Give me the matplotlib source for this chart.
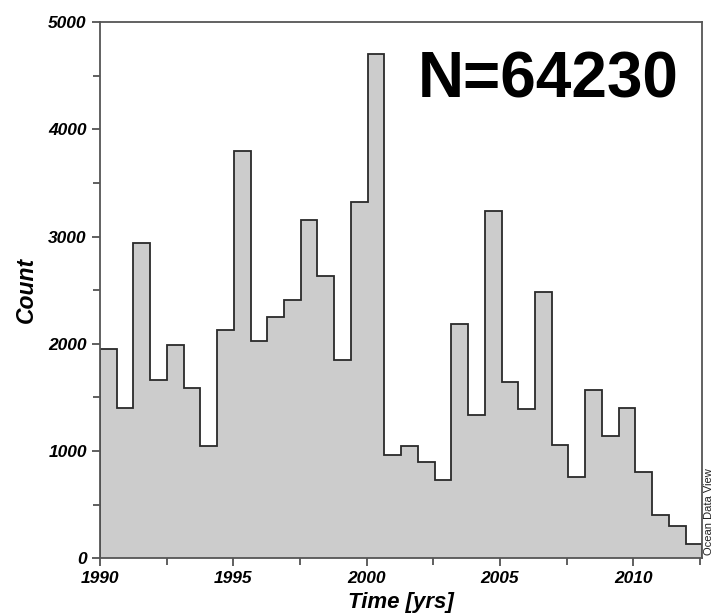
import numpy as np
import matplotlib.pyplot as plt
from matplotlib.ticker import MultipleLocator

# counts per bin (36 equal bins 1990 .. ~2012.6)
counts = [1950, 1400, 2940, 1660, 1990, 1590, 1050, 2130, 3800, 2030,
          2250, 2410, 3150, 2630, 1850, 3320, 4700, 960, 1050, 900,
          730, 2180, 1340, 3240, 1640, 1390, 2480, 1060, 760, 1570,
          1140, 1400, 800, 400, 300, 130]
t_start = 1990.0
t_end = 2012.59
edges = np.linspace(t_start, t_end, len(counts) + 1)
n_total = "N=64230"

plt.rcParams['font.family'] = ['Liberation Sans', 'DejaVu Sans']

fig = plt.figure(figsize=(7.13, 6.15), dpi=100)
ax = fig.add_axes([100/713, (615-558.3)/615, 602.3/713, 536.3/615])

ax.stairs(counts, edges, fill=True, color='#cccccc', baseline=0)
ax.stairs(counts, edges, fill=False, color='#2a2a2a', lw=1.3, baseline=0)

ax.set_xlim(t_start, t_end)
ax.set_ylim(0, 5000)
ax.xaxis.set_major_locator(MultipleLocator(5))
ax.xaxis.set_minor_locator(MultipleLocator(2.5))
ax.yaxis.set_major_locator(MultipleLocator(1000))
ax.yaxis.set_minor_locator(MultipleLocator(500))
ax.tick_params(which='both', direction='out', color='#444444', width=1.2)
ax.tick_params(which='major', length=6)
ax.tick_params(which='minor', length=5)
for lab in ax.get_xticklabels() + ax.get_yticklabels():
    lab.set_fontweight('bold')
    lab.set_fontstyle('italic')
    lab.set_fontsize(12.5)
for s in ax.spines.values():
    s.set_color('#555555')
    s.set_linewidth(1.3)

ax.set_xlabel('Time [yrs]', fontsize=16, fontweight='bold', fontstyle='italic', labelpad=4)
fig.text(26/713, 1 - 290/615, 'Count', rotation=90, ha='center', va='center',
         fontsize=16.5, fontweight='bold', fontstyle='italic')

ax.text(0.96, 0.89, n_total, transform=ax.transAxes, ha='right', va='center',
        fontsize=46, fontweight='bold')
fig.text(708.5/713, 1 - 512/615, 'Ocean Data View', rotation=90, fontsize=8,
         ha='center', va='center', color='#222222')

fig.savefig('out.png', dpi=100)
